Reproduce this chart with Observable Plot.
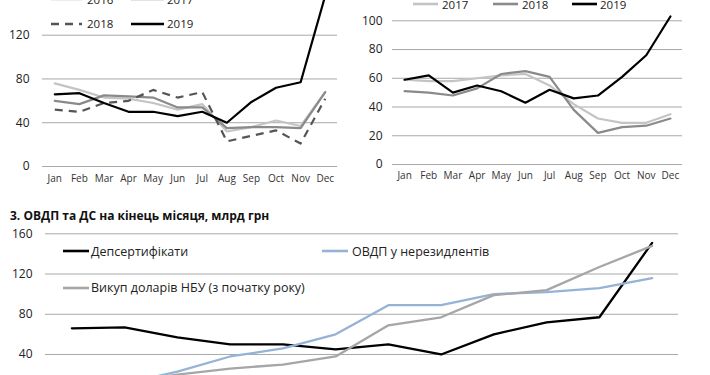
<!DOCTYPE html>
<html><head><meta charset="utf-8">
<script src="https://cdn.jsdelivr.net/npm/d3@7"></script>
<script src="https://cdn.jsdelivr.net/npm/@observablehq/plot@0.6"></script>
<style>
body{margin:0;background:#fff;font-family:"Open Sans",sans-serif;}
#root{position:relative;width:710px;height:375px;overflow:hidden;background:#fff;}
.panel{position:absolute;}
.leg{position:absolute;display:flex;align-items:center;color:#222;white-space:nowrap;height:20px;}
.leg svg{display:block;}
.title{position:absolute;font-weight:bold;white-space:nowrap;color:#111;}
</style></head><body><div id="root"></div>
<script>
// ---- data ----
const months = ["Jan","Feb","Mar","Apr","May","Jun","Jul","Aug","Sep","Oct","Nov","Dec"];

// panel 1 (top-left)
const p1Names = ["2016","2017","2018","2019"];
const p1_2016 = [76,70,63,62,58,52,57,32,36,42,37,68];
const p1_2017 = [60,57,65,64,63,54,54,35,36,36,35,68];
const p1_2018 = [52,50,58,60,70,63,68,23,28,33,21,62];
const p1_2019 = [66,67,58,50,50,46,50,40,59,72,77,156];
const p1Ticks = [0,40,80,120];

// panel 2 (top-right)
const p2Names = ["2017","2018","2019"];
const p2_2017 = [59,58,58,60,62,63,55,42,32,29,29,35];
const p2_2018 = [51,50,48,53,63,65,61,38,22,26,27,32];
const p2_2019 = [59,62,50,55,51,43,52,46,48,61,76,103];
const p2Ticks = [0,20,40,60,80,100];

// panel 3 (bottom)
const p3Title = "3. ОВДП та ДС на кінець місяця, млрд грн";
const p3Names = ["Депсертифікати","ОВДП у нерезидлентів","Викуп доларів НБУ (з початку року)"];
const p3_dep = [66,67,57,50,50,45,50,40,60,72,77,151];
const p3_ovdp = [8,11,23,38,46,60,89,89,100,102,106,116];
const p3_vykup = [5,12,20,26,30,38,69,77,99,104,127,148];
const p3Ticks = [40,80,120,160];

// ---- drawing ----
const root = document.getElementById("root");

function mkPanel(o) {
  const data = o.series.flatMap(s => s.values.map((v, i) => ({month: months[i], value: v, key: s.name})));
  const marks = [
    Plot.ruleY(o.ticks, {stroke: "#a8a8a8", strokeWidth: 1}),
    Plot.axisY(o.ticks, {tickSize: 0, tickPadding: o.yPad, fontSize: 12, fill: "#222", label: null})
  ];
  if (o.xAxis) marks.push(Plot.axisX({tickSize: 0, tickPadding: o.xPad, fontSize: 10, fill: "#333", label: null}));
  for (const s of o.series) {
    marks.push(Plot.line(data.filter(d => d.key === s.name), {
      x: "month", y: "value", stroke: s.color, strokeWidth: s.width || 2.2,
      strokeDasharray: s.dash, strokeLinecap: s.dash ? "butt" : "round"
    }));
  }
  const svg = Plot.plot({
    width: o.width, height: o.height,
    marginLeft: o.ml, marginRight: o.mr, marginTop: o.mt, marginBottom: o.mb,
    x: {type: "point", domain: months, padding: 0.5, round: false, axis: o.xAxis ? undefined : null},
    y: {domain: o.yDomain, range: o.yRange},
    style: {fontFamily: "Open Sans", background: "transparent", overflow: "visible"},
    marks
  });
  const div = document.createElement("div");
  div.className = "panel";
  div.style.left = o.left + "px";
  div.style.top = o.top + "px";
  div.style.width = o.width + "px";
  div.style.height = o.height + "px";
  div.appendChild(svg);
  root.appendChild(div);
}

// top-left
mkPanel({
  left: 0, top: 0, width: 350, height: 190, ml: 42, mr: 13, mt: 0, mb: 24,
  yDomain: [0, 120], yRange: [166, 34.7], ticks: p1Ticks, yPad: 13, xAxis: true, xPad: 8,
  series: [
    {name: p1Names[0], values: p1_2016, color: "#c4c4c4"},
    {name: p1Names[1], values: p1_2017, color: "#8a8a8a"},
    {name: p1Names[2], values: p1_2018, color: "#555", dash: "8,6"},
    {name: p1Names[3], values: p1_2019, color: "#000"}
  ]
});

// top-right
mkPanel({
  left: 350, top: 0, width: 360, height: 190, ml: 42, mr: 28, mt: 0, mb: 26,
  yDomain: [0, 100], yRange: [164, 20.3], ticks: p2Ticks, yPad: 10, xAxis: true, xPad: 7,
  series: [
    {name: p2Names[0], values: p2_2017, color: "#c4c4c4"},
    {name: p2Names[1], values: p2_2018, color: "#8a8a8a"},
    {name: p2Names[2], values: p2_2019, color: "#000"}
  ]
});

// bottom
mkPanel({
  left: 0, top: 220, width: 710, height: 180, ml: 45, mr: 32, mt: 0, mb: 5.8,
  yDomain: [0, 160], yRange: [174.2, 13.3], ticks: p3Ticks, yPad: 13, xAxis: false,
  series: [
    {name: p3Names[0], values: p3_dep, color: "#000", width: 2.3},
    {name: p3Names[1], values: p3_ovdp, color: "#95b3d7", width: 2.3},
    {name: p3Names[2], values: p3_vykup, color: "#a6a6a6", width: 2.3}
  ]
});

function legendItem(x, yc, color, dash, label, fs, sw, gap) {
  const d = document.createElement("div");
  d.className = "leg";
  d.style.left = x + "px";
  d.style.top = (yc - 10) + "px";
  d.style.fontSize = fs + "px";
  d.innerHTML = `<svg width="${sw}" height="6"><line x1="0" x2="${sw}" y1="3" y2="3" stroke="${color}" stroke-width="2.6" ${dash ? `stroke-dasharray="${dash}"` : ""}/></svg><span style="margin-left:${gap}px">${label}</span>`;
  root.appendChild(d);
}

// top-left legend
legendItem(51, -1, "#c4c4c4", null, p1Names[0], 11.5, 31, 5);
legendItem(131, -1, "#8a8a8a", null, p1Names[1], 11.5, 33, 3);
legendItem(51, 23.5, "#555", "8,6", p1Names[2], 11.5, 31, 5);
legendItem(131, 23.5, "#000", null, p1Names[3], 11.5, 33, 3);

// top-right legend
legendItem(413, 4, "#c4c4c4", null, p2Names[0], 11.5, 25, 4);
legendItem(493, 4, "#8a8a8a", null, p2Names[1], 11.5, 25, 4);
legendItem(572, 4, "#000", null, p2Names[2], 11.5, 25, 3);

// bottom title & legend
const t = document.createElement("div");
t.className = "title";
t.style.left = "10px";
t.style.top = "207px";
t.style.fontSize = "12px";
t.textContent = p3Title;
root.appendChild(t);

legendItem(63, 251, "#000", null, p3Names[0], 12.5, 26, 2);
legendItem(322, 251, "#95b3d7", null, p3Names[1], 12.5, 26, 4);
legendItem(63, 287.5, "#a6a6a6", null, p3Names[2], 12.5, 26, 2);
</script>
</body></html>
